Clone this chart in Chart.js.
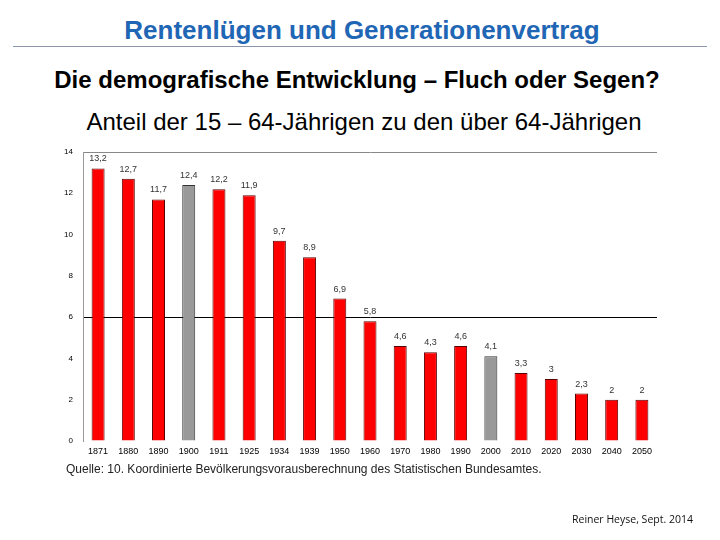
<!DOCTYPE html>
<html>
<head>
<meta charset="utf-8">
<script src="https://cdn.jsdelivr.net/npm/chart.js@4"></script>
<style>
  body { margin: 0; width: 720px; height: 540px; background: #fff; position: relative; overflow: hidden; font-family: "Liberation Sans", Arial, sans-serif; }
  .t { position: absolute; left: 0; width: 720px; text-align: center; white-space: nowrap; line-height: 1; }
  #title { top: 17px; left: 2px; font-size: 26px; font-weight: bold; color: #1f66b5; }
  #rule { position: absolute; left: 13px; top: 46px; width: 694px; height: 1px; background: #8c96aa; }
  #sub { top: 68px; left: -3px; font-size: 24px; font-weight: bold; color: #000; }
  #sub2 { top: 110px; left: 4px; font-size: 24px; color: #000; }
  #src { position: absolute; left: 66px; top: 462px; font-size: 12px; color: #222; }
  #author { position: absolute; left: 572px; top: 512px; font-size: 10.5px; color: #111; font-family: "Open Sans", sans-serif; }
  #wrap { position: absolute; left: 0; top: 0; width: 720px; height: 540px; }
</style>
</head>
<body>
<div class="t" id="title">Rentenlügen und Generationenvertrag</div>
<div id="rule"></div>
<div class="t" id="sub">Die demografische Entwicklung – Fluch oder Segen?</div>
<div class="t" id="sub2">Anteil der 15 – 64-Jährigen zu den über 64-Jährigen</div>
<div id="wrap"><canvas id="myChart"></canvas></div>
<div id="src">Quelle: 10. Koordinierte Bevölkerungsvorausberechnung des Statistischen Bundesamtes.</div>
<div id="author">Reiner Heyse, Sept. 2014</div>
<script>
var years = ['1871', '1880', '1890', '1900', '1911', '1925', '1934', '1939', '1950', '1960', '1970', '1980', '1990', '2000', '2010', '2020', '2030', '2040', '2050'];
var ratio = [13.2, 12.7, 11.7, 12.4, 12.2, 11.9, 9.7, 8.9, 6.9, 5.8, 4.6, 4.3, 4.6, 4.1, 3.3, 3, 2.3, 2, 2];
var greyYears = ['1900', '2000'];
var yTicks = [0, 2, 4, 6, 8, 10, 12, 14];

// value labels above the bars
var valueLabels = {
  id: 'valueLabels',
  afterDatasetsDraw: function(chart) {
    var c = chart.ctx;
    var meta = chart.getDatasetMeta(0);
    c.save();
    c.font = '9px "Liberation Sans", Arial, sans-serif';
    c.fillStyle = '#333';
    c.textAlign = 'center';
    c.textBaseline = 'bottom';
    meta.data.forEach(function(bar, i) {
      c.fillText(String(ratio[i]).replace('.', ','), bar.x, bar.y - 5);
    });
    c.restore();
  }
};

document.addEventListener('DOMContentLoaded', function(){
  var ctx = document.getElementById('myChart').getContext('2d');
  new Chart(ctx, {
    type: 'bar',
    data: {
      labels: years,
      datasets: [{
        data: ratio,
        backgroundColor: years.map(function(y){ return greyYears.indexOf(y) >= 0 ? '#999999' : '#ff0000'; }),
        borderColor: years.map(function(y){ return greyYears.indexOf(y) >= 0 ? '#333333' : '#5a0000'; }),
        borderWidth: 1,
        borderSkipped: 'bottom',
        categoryPercentage: 1,
        barPercentage: 0.43
      }]
    },
    options: {
      responsive: true,
      maintainAspectRatio: false,
      animation: false,
      layout: { padding: { left: 58, top: 152, right: 63, bottom: 79 } },
      plugins: { legend: { display: false }, tooltip: { enabled: false } },
      scales: {
        x: {
          grid: { display: false, drawTicks: false },
          border: { display: false },
          ticks: { color: '#000', font: { size: 9, family: '"Liberation Sans", Arial, sans-serif' }, maxRotation: 0, padding: 5 },
          afterFit: function(s) { s.height = 20; }
        },
        y: {
          min: 0,
          max: 14,
          afterBuildTicks: function(s) { s.ticks = yTicks.map(function(v){ return { value: v }; }); },
          grid: {
            drawTicks: false,
            color: function(c) { return c.tick.value === 6 ? '#000' : (c.tick.value === 14 ? '#888' : 'rgba(0,0,0,0)'); }
          },
          border: { color: '#999' },
          ticks: { color: '#000', font: { size: 8, family: '"Liberation Sans", Arial, sans-serif' }, padding: 10 },
          afterFit: function(s) { s.width = 25; }
        }
      }
    },
    plugins: [valueLabels]
  });
});
</script>
</body>
</html>
